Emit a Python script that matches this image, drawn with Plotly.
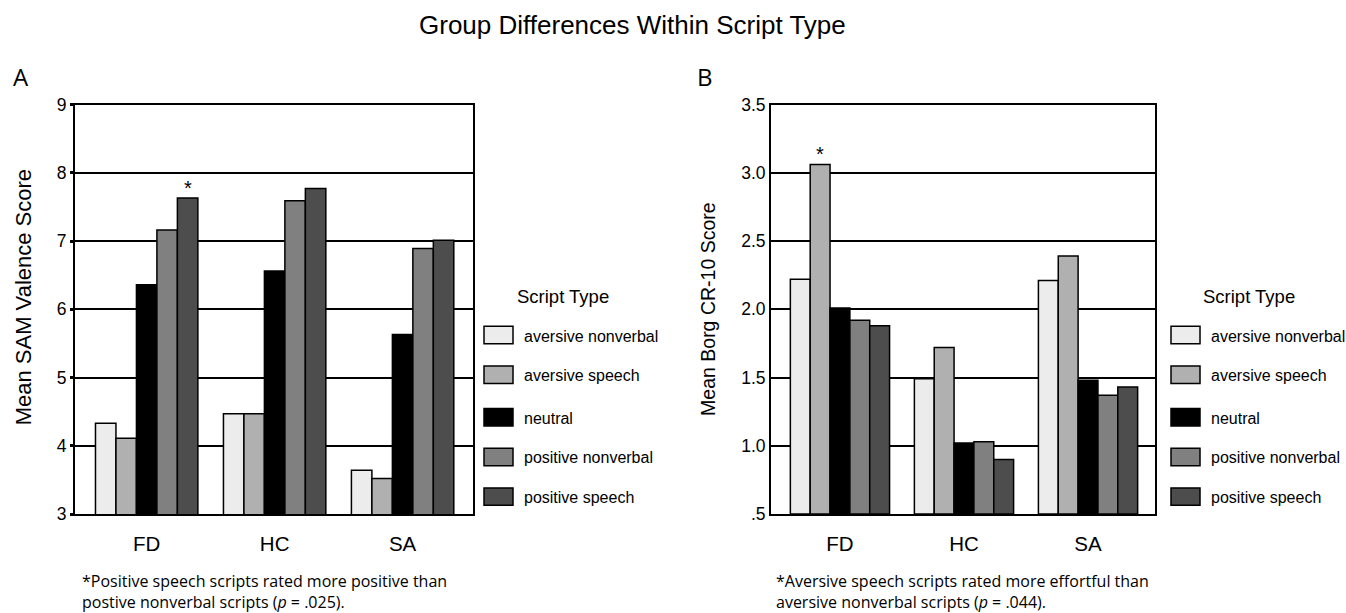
import plotly.graph_objects as go

groups = ["FD", "HC", "SA"]
script_types = ["aversive nonverbal", "aversive speech", "neutral", "positive nonverbal", "positive speech"]
colors = ["#ececec", "#b0b0b0", "#000000", "#808080", "#4d4d4d"]

# Panel A: Mean SAM Valence Score (per script type, across FD, HC, SA)
valence_av_nonverbal = [4.33, 4.47, 3.64]
valence_av_speech = [4.11, 4.47, 3.52]
valence_neutral = [6.36, 6.56, 5.63]
valence_pos_nonverbal = [7.16, 7.59, 6.89]
valence_pos_speech = [7.63, 7.77, 7.01]

# Panel B: Mean Borg CR-10 Score
borg_av_nonverbal = [2.22, 1.49, 2.21]
borg_av_speech = [3.06, 1.72, 2.39]
borg_neutral = [2.01, 1.02, 1.48]
borg_pos_nonverbal = [1.92, 1.03, 1.37]
borg_pos_speech = [1.88, 0.90, 1.43]

valence = [valence_av_nonverbal, valence_av_speech, valence_neutral, valence_pos_nonverbal, valence_pos_speech]
borg = [borg_av_nonverbal, borg_av_speech, borg_neutral, borg_pos_nonverbal, borg_pos_speech]

borg_ticks = [0.5, 1.0, 1.5, 2.0, 2.5, 3.0, 3.5]
borg_ticktext = [".5", "1.0", "1.5", "2.0", "2.5", "3.0", "3.5"]
BORG_BASE = 0.5

W, H = 1346, 613
BARGAP = 0.2
ARIAL = '"Liberation Sans"'
MYRIAD = '"Open Sans"'

def px(x):
    return x / W

def py(y):
    return 1 - y / H

fig = go.Figure()
for i, name in enumerate(script_types):
    fig.add_trace(go.Bar(x=groups, y=valence[i], name=name,
                         marker=dict(color=colors[i], line=dict(color="black", width=1.5)),
                         xaxis="x", yaxis="y", showlegend=False))
    fig.add_trace(go.Bar(x=groups, y=[v - BORG_BASE for v in borg[i]], base=BORG_BASE, name=name,
                         customdata=borg[i], hovertemplate="%{customdata}<extra>" + name + "</extra>",
                         marker=dict(color=colors[i], line=dict(color="black", width=1.5)),
                         xaxis="x2", yaxis="y2", showlegend=False))

ydom = [py(521), py(97.7)]
axis_common = dict(showline=True, linecolor="black", linewidth=2, mirror=True,
                   showgrid=True, gridcolor="black", gridwidth=1.5,
                   tickfont=dict(family=ARIAL, size=17.5, color="black"))
xaxis_common = dict(type="category", showline=True, linecolor="black", linewidth=2, mirror=True,
                    showgrid=False, ticks="", ticklabelstandoff=10,
                    tickfont=dict(family=ARIAL, size=20.5, color="black"))

fig.update_layout(
    width=W, height=H, margin=dict(l=0, r=0, t=0, b=0),
    paper_bgcolor="white", plot_bgcolor="white",
    font=dict(family=ARIAL, color="black"),
    barmode="group", bargap=BARGAP, bargroupgap=0,
    xaxis=dict(domain=[px(75), px(473)], range=[-0.56, 2.55], anchor="y", **xaxis_common),
    yaxis=dict(domain=ydom, range=[3, 9], dtick=1, anchor="x", ticks="outside", ticklen=3, tickwidth=3,
               tickcolor="black", **axis_common),
    xaxis2=dict(domain=[px(771), px(1155)], range=[-0.556, 2.54], anchor="y2", **xaxis_common),
    yaxis2=dict(domain=ydom, range=[0.5, 3.5], tickvals=borg_ticks, ticktext=borg_ticktext, anchor="x2",
                ticks="", **axis_common),
)

annotations = []
annotations.append(dict(text="Group Differences Within Script Type", x=px(632), y=py(16), xref="paper", yref="paper",
                        showarrow=False, font=dict(family=ARIAL, size=26, color="black"), xanchor="center", yanchor="middle"))
annotations.append(dict(text="A", x=px(11), y=py(69), xref="paper", yref="paper", showarrow=False,
                        font=dict(family=MYRIAD, size=24, color="black"), xanchor="left", yanchor="middle"))
annotations.append(dict(text="B", x=px(695), y=py(69), xref="paper", yref="paper", showarrow=False,
                        font=dict(family=MYRIAD, size=24, color="black"), xanchor="left", yanchor="middle"))

# y axis titles
annotations.append(dict(text="Mean SAM Valence Score", x=px(23), y=py(297), xref="paper", yref="paper", showarrow=False,
                        textangle=-90, font=dict(family=ARIAL, size=22, color="black"), xanchor="center", yanchor="middle"))
annotations.append(dict(text="Mean Borg CR-10 Score", x=px(708), y=py(309), xref="paper", yref="paper", showarrow=False,
                        textangle=-90, font=dict(family=ARIAL, size=19.5, color="black"), xanchor="center", yanchor="middle"))

# significance asterisks, placed over the relevant bar via group geometry
n = len(script_types)
gw = 1 - BARGAP
def bar_center(gi, si):
    return gi - gw / 2 + gw / n * (si + 0.5)

annotations.append(dict(text="*", x=bar_center(0, 4), y=valence_pos_speech[0], xref="x", yref="y", showarrow=False,
                        font=dict(family=ARIAL, size=20, color="black"), yanchor="bottom", yshift=-3))
annotations.append(dict(text="*", x=bar_center(0, 1), y=borg_av_speech[0], xref="x2", yref="y2", showarrow=False,
                        font=dict(family=ARIAL, size=20, color="black"), yanchor="bottom", yshift=-2))

# captions
annotations.append(dict(text="*Positive speech scripts rated more positive than<br>postive nonverbal scripts (<i>p</i> = .025).",
                        x=px(80), y=py(601), xref="paper", yref="paper", showarrow=False, align="left",
                        font=dict(family=MYRIAD, size=16, color="black"), xanchor="left", yanchor="middle"))
annotations.append(dict(text="*Aversive speech scripts rated more effortful than<br>aversive nonverbal scripts (<i>p</i> = .044).",
                        x=px(774), y=py(601), xref="paper", yref="paper", showarrow=False, align="left",
                        font=dict(family=MYRIAD, size=16, color="black"), xanchor="left", yanchor="middle"))

# legends (drawn manually with the wide swatches of the original)
shapes = []
legend_rows = [336, 377, 421, 462, 503]
for (sw_x, title_x) in [(484, 515), (1171, 1201)]:
    annotations.append(dict(text="Script Type", x=px(title_x), y=py(296), xref="paper", yref="paper", showarrow=False,
                            font=dict(family=ARIAL, size=18.5, color="black"), xanchor="left", yanchor="middle"))
    for i, name in enumerate(script_types):
        yc = legend_rows[i]
        shapes.append(dict(type="rect", xref="paper", yref="paper", x0=px(sw_x), x1=px(sw_x + 29),
                           y0=py(yc + 9), y1=py(yc - 9), fillcolor=colors[i], line=dict(color="black", width=1.5)))
        annotations.append(dict(text=name, x=px(sw_x + 38), y=py(yc + 1), xref="paper", yref="paper", showarrow=False,
                                font=dict(family=ARIAL, size=16, color="black"), xanchor="left", yanchor="middle"))

fig.update_layout(annotations=annotations, shapes=shapes)
fig.write_html("out.html")
